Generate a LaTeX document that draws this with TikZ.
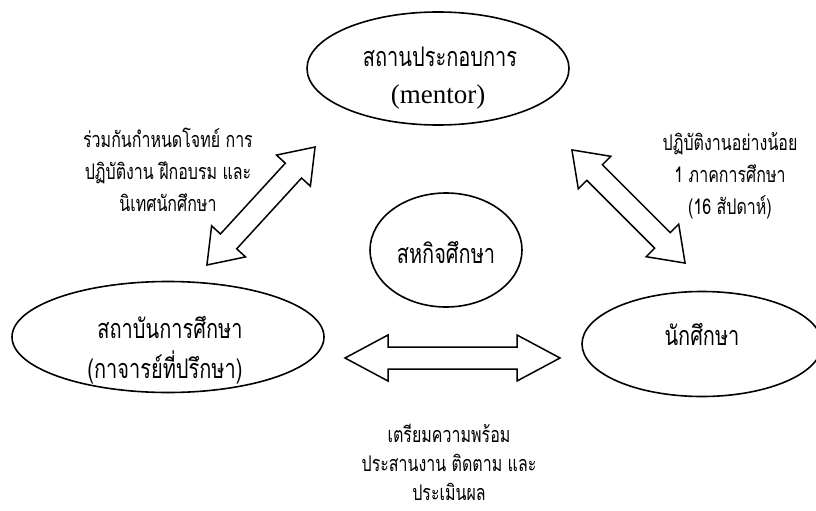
\documentclass[tikz,border=0pt]{standalone}
\usepackage{fontspec}
\setmainfont{Liberation Serif}
\newfontfamily\thaifont[Script=Thai,FakeStretch=0.74]{Loma}
\usetikzlibrary{shapes.geometric}

% double block arrow: centre, angle, half length, head length
\newcommand{\blockarrow}[4]{%
  \draw[blockline,shift={#1},rotate=#2]
    (-#3,0) -- (-#3+#4,23) -- (-#3+#4,11) -- (#3-#4,11) -- (#3-#4,23)
    -- (#3,0) -- (#3-#4,-23) -- (#3-#4,-11) -- (-#3+#4,-11) -- (-#3+#4,-23) -- cycle;}

\tikzset{
  ell/.style={draw,ellipse,line width=1.6pt,inner sep=0pt},
  blockline/.style={line width=1.5pt,line join=miter},
  intxt/.style={font={\thaifont\fontsize{27}{30}\selectfont},inner sep=0pt},
  sidetxt/.style={font={\thaifont\fontsize{21.6}{32}\selectfont},align=center,inner sep=0pt}
}

\begin{document}
\begin{tikzpicture}[x=1pt,y=-1pt]
  \useasboundingbox (0,0) rectangle (816,511);

  % ellipses
  \node[ell,minimum width=262pt,minimum height=113pt] (mentor) at (438,68.5) {};
  \node[ell,minimum width=152pt,minimum height=114pt] (coop) at (446,250) {};
  \node[ell,minimum width=312pt,minimum height=111pt] (school) at (168,337) {};
  \node[ell,minimum width=240pt,minimum height=105pt] (student) at (702,344) {};

  % texts inside
  \node[intxt] (mentorthai) at (440,57) {สถานประกอบการ};
  \node[inner sep=0pt,font=\fontsize{27}{30}\selectfont] (mentorlatin) at (438,97) {(mentor)};
  \node[intxt] (coopthai) at (446,252) {สหกิจศึกษา};
  \node[intxt] (schoolthai) at (170,327) {สถาบันการศึกษา};
  \node[intxt] (advisor) at (165,367) {(กาจารย์ที่ปรึกษา)};
  \node[intxt] (studentthai) at (702,334) {นักศึกษา};

  % arrows
  \coordinate (upleft) at (261,206);
  \coordinate (upright) at (628.5,206.5);
  \coordinate (lower) at (452.5,358);
  \blockarrow{(upleft)}{47.5}{80}{32}
  \blockarrow{(upright)}{-45}{80}{32}
  \blockarrow{(lower)}{0}{107.5}{43}

  % labels
  \node[sidetxt] (leftlbl) at (168,170) {ร่วมกันกำหนดโจทย์ การ\\ปฏิบัติงาน ฝึกอบรม และ\\นิเทศนักศึกษา};
  \node[sidetxt] (rightlbl) at (730,176) {ปฏิบัติงานอย่างน้อย\\1 ภาคการศึกษา\\(16 สัปดาห์)};
  \node[sidetxt,font={\thaifont\fontsize{21.6}{29}\selectfont}] (bottomlbl) at (449,462) {เตรียมความพร้อม\\ประสานงาน ติดตาม และ\\ประเมินผล};
\end{tikzpicture}
\end{document}
